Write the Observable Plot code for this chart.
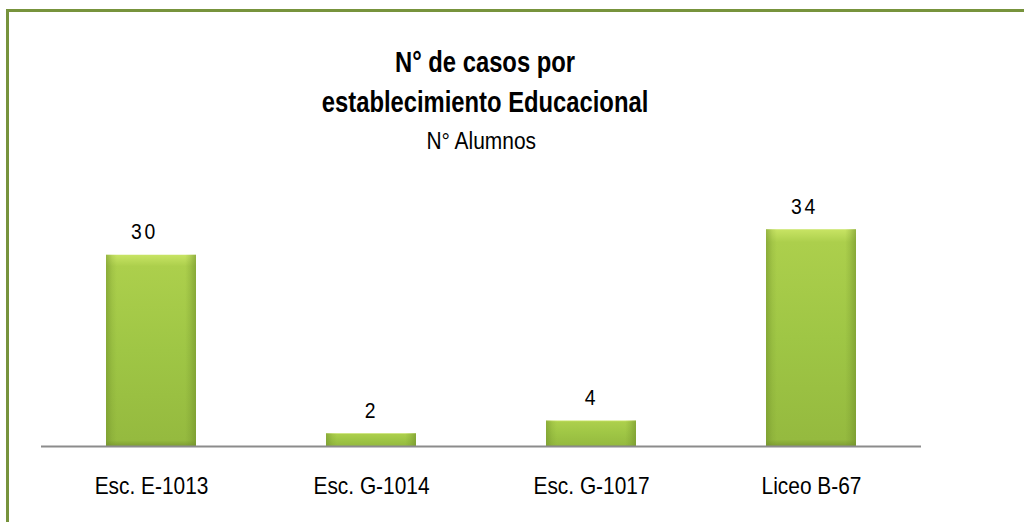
<!DOCTYPE html>
<html>
<head>
<meta charset="utf-8">
<script src="https://cdn.jsdelivr.net/npm/d3@7"></script>
<script src="https://cdn.jsdelivr.net/npm/@observablehq/plot@0.6"></script>
<style>
  html, body { margin: 0; padding: 0; background: #fff; }
  #wrap { position: relative; width: 1024px; height: 522px; overflow: hidden; background: #fff; }
  #frame { position: absolute; left: 6px; top: 9px; right: -10px; bottom: -10px;
           border-left: 3px solid #77933C; border-top: 3px solid #77933C; }
  .title { position: absolute; left: 41px; width: 880px; text-align: center; color: #000; }
  .title span { display: inline-block; transform-origin: center; }
  #t1 { top: 42px; left: 45px; font: bold 29px "Liberation Sans", Arial, sans-serif; line-height: 40px; }
  #t1 span { transform: scaleX(0.82); }
  #t2 { top: 130px; font: 23px "Liberation Sans", Arial, sans-serif; line-height: 23px; }
  #t2 span { transform: scaleX(0.91); }
  #chart { position: absolute; left: 0; top: 160px; }
</style>
</head>
<body>
<div id="wrap">
  <div id="frame"></div>
  <div class="title" id="t1"><span>N° de casos por<br>establecimiento Educacional</span></div>
  <div class="title" id="t2"><span>N° Alumnos</span></div>
  <div id="chart"></div>
</div>
<script>
const categories = ["Esc. E-1013", "Esc. G-1014", "Esc. G-1017", "Liceo B-67"];
const values = [30, 2, 4, 34];

const data = categories.map((c, i) => ({category: c, value: values[i]}));
const font = '"Liberation Sans", Arial, sans-serif';

const chart = Plot.plot({
  width: 1024,
  height: 362,
  marginLeft: 41,
  marginRight: 103,
  marginTop: 31,
  marginBottom: 76,
  style: {fontFamily: font, background: "transparent", overflow: "visible"},
  x: {domain: categories, paddingInner: 0.59, paddingOuter: 0.295, label: null},
  y: {domain: [0, 40], axis: null},
  marks: [
    Plot.barY(data, {x: "category", y: "value", fill: "url(#barFill)"}),
    Plot.barY(data, {x: "category", y: "value", fill: "url(#barSides)"}),
    Plot.ruleY([0], {stroke: "#8c8c8c", strokeWidth: 2}),
    Plot.text(data.filter(d => d.value >= 10), {
      x: "category", y: "value", text: d => String(d.value),
      fontSize: 22, dy: -23, dx: -7, fill: "#000"
    }),
    Plot.text(data.filter(d => d.value < 10), {
      x: "category", y: "value", text: d => String(d.value),
      fontSize: 22, dy: -23, fill: "#000"
    }),
    Plot.axisX({tickSize: 0, tickPadding: 30, fontSize: 24, label: null, fill: "#000"})
  ]
});

chart.insertAdjacentHTML("afterbegin", `
<defs>
  <linearGradient id="barFill" x1="0" y1="0" x2="0" y2="1">
    <stop offset="0" stop-color="#c8e464"/>
    <stop offset="0.06" stop-color="#accf4c"/>
    <stop offset="0.5" stop-color="#9fc645"/>
    <stop offset="0.97" stop-color="#95ba3f"/>
    <stop offset="1" stop-color="#7f9e33"/>
  </linearGradient>
  <linearGradient id="barSides" x1="0" y1="0" x2="1" y2="0">
    <stop offset="0" stop-color="#6f8f2a" stop-opacity="0.55"/>
    <stop offset="0.07" stop-color="#6f8f2a" stop-opacity="0.15"/>
    <stop offset="0.12" stop-color="#6f8f2a" stop-opacity="0"/>
    <stop offset="0.88" stop-color="#6f8f2a" stop-opacity="0"/>
    <stop offset="0.93" stop-color="#6f8f2a" stop-opacity="0.2"/>
    <stop offset="1" stop-color="#6f8f2a" stop-opacity="0.6"/>
  </linearGradient>
</defs>`);

document.getElementById("chart").appendChild(chart);

// condense the texts (Arial Narrow look) and space the value digits
chart.querySelectorAll("text").forEach(t => {
  const s = t.textContent.trim();
  let scale = null;
  if (/^\d+$/.test(s)) {
    t.style.letterSpacing = "3px";
    scale = 0.88;
  } else if (categories.includes(s)) {
    scale = 0.87;
  }
  if (scale) {
    const w = t.getComputedTextLength();
    if (w > 0) {
      t.setAttribute("textLength", (w * scale).toFixed(1));
      t.setAttribute("lengthAdjust", "spacingAndGlyphs");
    }
  }
});
</script>
</body>
</html>
